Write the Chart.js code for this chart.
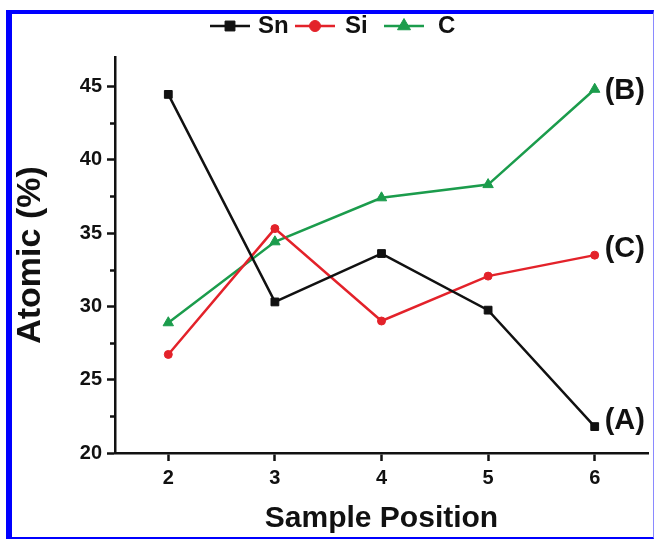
<!DOCTYPE html>
<html>
<head>
<meta charset="utf-8">
<script src="https://cdn.jsdelivr.net/npm/chart.js@4.4.1/dist/chart.umd.min.js"></script>
<style>
  html, body { margin: 0; padding: 0; background: #fff; }
  #wrap { position: relative; width: 655px; height: 539px; }
  #frame {
    position: absolute; left: 6px; top: 10px; width: 648px; height: 529px;
    box-sizing: border-box; pointer-events: none;
    border-left: 6px solid #0000ff; border-top: 4px solid #0000ff;
    border-right: 1px solid #8a8aff; border-bottom: 2px solid #0000ff;
  }
</style>
</head>
<body>
<div id="wrap">
  <canvas id="grafico" width="655" height="539"></canvas>
  <div id="frame"></div>
</div>
<script>
// Dati
const posizioni = [2, 3, 4, 5, 6];
const valoriSn = [44.45, 30.3, 33.6, 29.74, 21.8];
const valoriSi = [26.72, 35.3, 29.0, 32.06, 33.49];
const valoriC = [28.88, 34.4, 37.4, 38.3, 44.8];
const etichette = ['(A)', '(C)', '(B)'];
const tickY = [20, 25, 30, 35, 40, 45];
const tickYMinori = [22.5, 27.5, 32.5, 37.5, 42.5];

const FONT = "'Liberation Sans', Arial, sans-serif";
const NERO = '#111';

function disegnaSimbolo(ctx, tipo, x, y, r, colore) {
    ctx.save();
    ctx.fillStyle = colore;
    ctx.strokeStyle = colore;
    ctx.lineWidth = 1;
    ctx.beginPath();
    if (tipo === 'rect') {
        const s = r * Math.SQRT1_2;
        ctx.rect(x - s, y - s, 2 * s, 2 * s);
    } else if (tipo === 'triangle') {
        const dx = r * Math.sin(Math.PI / 3);
        ctx.moveTo(x, y - r);
        ctx.lineTo(x + dx, y + r / 2);
        ctx.lineTo(x - dx, y + r / 2);
        ctx.closePath();
    } else {
        ctx.arc(x, y, r, 0, Math.PI * 2);
    }
    ctx.fill();
    ctx.stroke();
    ctx.restore();
}

// Legenda in stile Origin: linea + simbolo + nome
const legenda = {
    id: 'legenda',
    afterDraw(chart) {
        const ctx = chart.ctx;
        const pos = [{ x: 210, t: 258 }, { x: 295, t: 345 }, { x: 384, t: 438 }];
        chart.data.datasets.forEach((ds, i) => {
            const p = pos[i], y = 26, w = 40;
            ctx.save();
            ctx.strokeStyle = ds.borderColor;
            ctx.lineWidth = 2.5;
            ctx.beginPath();
            ctx.moveTo(p.x, y);
            ctx.lineTo(p.x + w, y);
            ctx.stroke();
            disegnaSimbolo(ctx, ds.pointStyle, p.x + w / 2, y, ds.pointRadius + 1.5, ds.borderColor);
            ctx.fillStyle = NERO;
            ctx.font = 'bold 24px ' + FONT;
            ctx.textBaseline = 'middle';
            ctx.fillText(ds.label, p.t, y);
            ctx.restore();
        });
    }
};

// Etichette (A) (B) (C) accanto all'ultimo punto
const sigle = {
    id: 'sigle',
    afterDatasetsDraw(chart) {
        const ctx = chart.ctx;
        const scarti = [-6, -6, 2];
        ctx.save();
        ctx.fillStyle = NERO;
        ctx.font = 'bold 29px ' + FONT;
        ctx.textBaseline = 'middle';
        chart.data.datasets.forEach((ds, i) => {
            const punti = chart.getDatasetMeta(i).data;
            const ultimo = punti[punti.length - 1];
            ctx.fillText(etichette[i], ultimo.x + 10, ultimo.y + scarti[i]);
        });
        ctx.restore();
    }
};

// Tacche minori sull'asse y
const tacche = {
    id: 'tacche',
    afterDraw(chart) {
        const ctx = chart.ctx;
        const sy = chart.scales.y;
        const left = chart.chartArea.left;
        ctx.save();
        ctx.strokeStyle = NERO;
        ctx.lineWidth = 2.5;
        tickYMinori.forEach(v => {
            const py = Math.round(sy.getPixelForValue(v)) + 0.5;
            ctx.beginPath();
            ctx.moveTo(left - 5, py);
            ctx.lineTo(left, py);
            ctx.stroke();
        });
        ctx.restore();
    }
};

function serie(nome, valori, colore, stile, raggio) {
    return {
        label: nome,
        data: valori,
        borderColor: colore,
        backgroundColor: colore,
        borderWidth: 2.5,
        pointStyle: stile,
        pointRadius: raggio,
        pointBackgroundColor: colore,
        pointBorderColor: colore,
        pointBorderWidth: 1,
        tension: 0
    };
}

const ctx = document.getElementById('grafico').getContext('2d');
new Chart(ctx, {
    type: 'line',
    data: {
        labels: posizioni,
        datasets: [
            serie('Sn', valoriSn, '#111111', 'rect', 5.5),
            serie('Si', valoriSi, '#e3222a', 'circle', 4),
            serie('C', valoriC, '#1b9c4c', 'triangle', 6)
        ]
    },
    options: {
        responsive: false,
        animation: false,
        layout: { padding: { top: 57, right: 2, bottom: 0, left: 0 } },
        plugins: {
            legend: { display: false },
            tooltip: { enabled: false }
        },
        scales: {
            x: {
                type: 'linear',
                min: 1.5,
                max: 6.5,
                afterBuildTicks: s => { s.ticks = posizioni.map(v => ({ value: v })); },
                afterFit: s => { s.height = 86; },
                grid: { drawOnChartArea: false, tickLength: 8, tickWidth: 2.5, tickColor: NERO },
                border: { color: NERO, width: 2.5 },
                ticks: { color: NERO, padding: 5, font: { family: FONT, size: 20, weight: 'bold' } },
                title: {
                    display: true, text: 'Sample Position', color: NERO,
                    font: { family: FONT, size: 30, weight: 'bold' },
                    padding: { top: 0, bottom: 2 }
                }
            },
            y: {
                min: 20,
                max: 47,
                afterBuildTicks: s => { s.ticks = tickY.map(v => ({ value: v })); },
                afterFit: s => { s.width = 115; },
                grid: { drawOnChartArea: false, tickLength: 8, tickWidth: 2.5, tickColor: NERO },
                border: { color: NERO, width: 2.5 },
                ticks: { color: NERO, padding: 5, font: { family: FONT, size: 20, weight: 'bold' } },
                title: {
                    display: true, text: 'Atomic (%)', color: NERO,
                    font: { family: FONT, size: 34, weight: 'bold' },
                    padding: { top: 10, bottom: 0 }
                }
            }
        }
    },
    plugins: [legenda, sigle, tacche]
});
</script>
</body>
</html>
